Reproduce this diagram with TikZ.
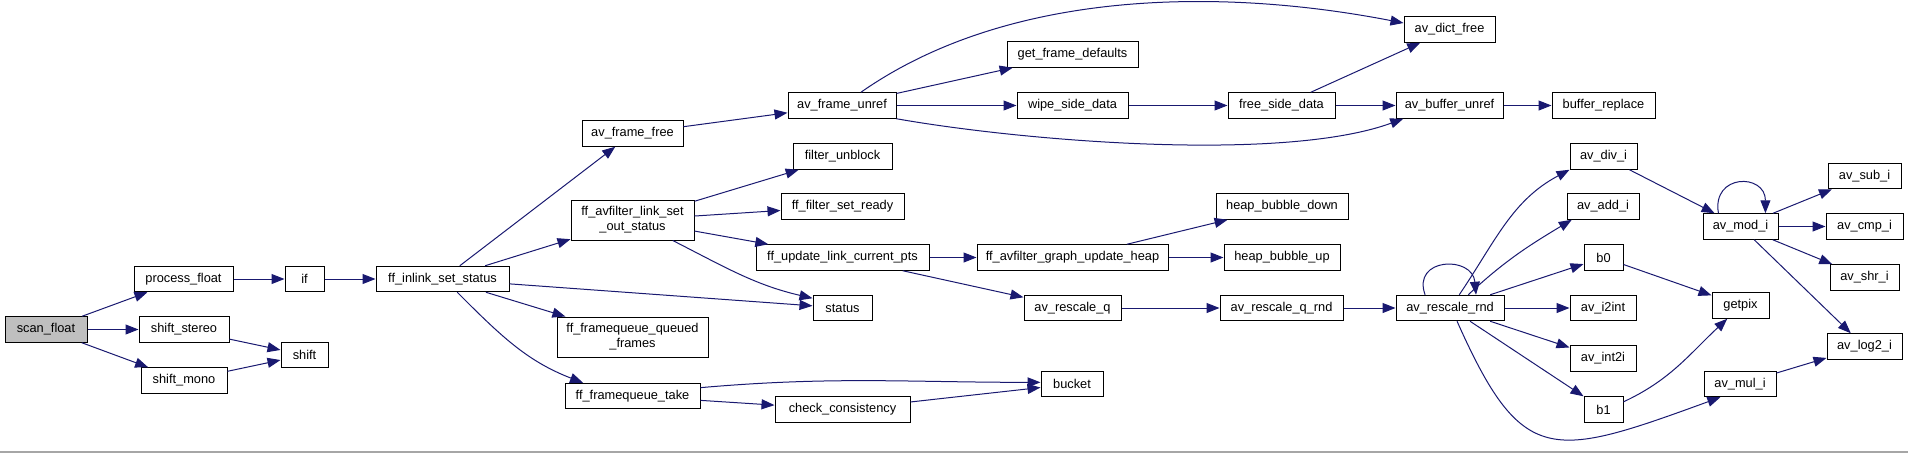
\documentclass[tikz,border=0pt]{standalone}
\usepackage{fontspec}
\setmainfont{Liberation Sans}
\usepackage{tikz}
\usepackage{xcolor}
\usetikzlibrary{arrows.meta}
\definecolor{edgeblue}{HTML}{191970}
\definecolor{rootgray}{HTML}{BFBFBF}

\begin{document}
\begin{tikzpicture}[
    x=1pt, y=1pt,
    fn/.style={rectangle, draw=black, fill=white, line width=1pt, inner sep=0pt, minimum height=25.5pt, font=\fontsize{12.8}{15}\selectfont},
    twoline/.style={fn, align=center, minimum height=40pt},
    arrow/.style={-{Triangle[length=13pt,width=10pt]}, draw=edgeblue, line width=1pt}
  ]
    \useasboundingbox (0,0) rectangle (1908,-453);
    \node[fn, fill=rootgray, minimum width=82pt] (scan) at (46,-329.5) {scan\_float};
    \node[fn, minimum width=99pt] (procfloat) at (183.5,-279) {process\_float};
    \node[fn, minimum width=90pt] (shiftstereo) at (184,-329.5) {shift\_stereo};
    \node[fn, minimum width=86pt] (shiftmono) at (184,-380.5) {shift\_mono};
    \node[fn, minimum width=39pt] (iff) at (304.5,-279) {if};
    \node[fn, minimum width=47pt] (shift) at (304.5,-355) {shift};
    \node[fn, minimum width=133pt] (inlink) at (442.5,-279) {ff\_inlink\_set\_status};
    \node[fn, minimum width=101pt] (framefree) at (632.5,-133.5) {av\_frame\_free};
    \node[twoline, minimum width=123pt] (linkout) at (632.5,-220) {ff\_avfilter\_link\_set\\\_out\_status};
    \node[twoline, minimum width=151pt] (queued) at (632.5,-337) {ff\_framequeue\_queued\\\_frames};
    \node[fn, minimum width=135pt] (fqtake) at (632.5,-396) {ff\_framequeue\_take};
    \node[fn, minimum width=108pt] (frameunref) at (842,-105.5) {av\_frame\_unref};
    \node[fn, minimum width=99pt] (unblock) at (842.5,-156.5) {filter\_unblock};
    \node[fn, minimum width=123pt] (setready) at (842.5,-206.5) {ff\_filter\_set\_ready};
    \node[fn, minimum width=173pt] (updpts) at (842.5,-257.5) {ff\_update\_link\_current\_pts};
    \node[fn, minimum width=59pt] (status) at (842.5,-308) {status};
    \node[fn, minimum width=135pt] (consist) at (842.5,-409.5) {check\_consistency};
    \node[fn, minimum width=131pt] (framedef) at (1072.5,-54.5) {get\_frame\_defaults};
    \node[fn, minimum width=111pt] (wipe) at (1072.5,-105.5) {wipe\_side\_data};
    \node[fn, minimum width=191pt] (heap) at (1072.5,-257.5) {ff\_avfilter\_graph\_update\_heap};
    \node[fn, minimum width=97pt] (rescaleq) at (1072.5,-308) {av\_rescale\_q};
    \node[fn, minimum width=62pt] (bucket) at (1072,-384) {bucket};
    \node[fn, minimum width=107pt] (freeside) at (1281.5,-105.5) {free\_side\_data};
    \node[fn, minimum width=132pt] (bubdown) at (1282,-206.5) {heap\_bubble\_down};
    \node[fn, minimum width=116pt] (bubup) at (1282,-257.5) {heap\_bubble\_up};
    \node[fn, minimum width=123pt] (qrnd) at (1281.5,-308) {av\_rescale\_q\_rnd};
    \node[fn, minimum width=91pt] (dictfree) at (1449.5,-29.5) {av\_dict\_free};
    \node[fn, minimum width=107pt] (bufunref) at (1449.5,-105.5) {av\_buffer\_unref};
    \node[fn, minimum width=108pt] (rnd) at (1450,-308) {av\_rescale\_rnd};
    \node[fn, minimum width=103pt] (bufrepl) at (1603.5,-105.5) {buffer\_replace};
    \node[fn, minimum width=67pt] (divi) at (1603.5,-156.5) {av\_div\_i};
    \node[fn, minimum width=72pt] (addi) at (1603,-206.5) {av\_add\_i};
    \node[fn, minimum width=39pt] (bzero) at (1603.5,-257.5) {b0};
    \node[fn, minimum width=66pt] (itoint) at (1603,-308) {av\_i2int};
    \node[fn, minimum width=66pt] (inttoi) at (1603,-358.5) {av\_int2i};
    \node[fn, minimum width=39pt] (bone) at (1603.5,-409.5) {b1};
    \node[fn, minimum width=75pt] (modi) at (1740.5,-226.5) {av\_mod\_i};
    \node[fn, minimum width=57pt] (getpix) at (1740.5,-305.5) {getpix};
    \node[fn, minimum width=72pt] (muli) at (1740,-384) {av\_mul\_i};
    \node[fn, minimum width=73pt] (subi) at (1864.5,-176) {av\_sub\_i};
    \node[fn, minimum width=77pt] (cmpi) at (1864.5,-226.5) {av\_cmp\_i};
    \node[fn, minimum width=69pt] (shri) at (1864.5,-277.5) {av\_shr\_i};
    \node[fn, minimum width=75pt] (logi) at (1864.5,-346.5) {av\_log2\_i};
    \draw[arrow] (scan) -- (procfloat);
    \draw[arrow] (scan) -- (shiftstereo);
    \draw[arrow] (scan) -- (shiftmono);
    \draw[arrow] (procfloat) -- (iff);
    \draw[arrow] (shiftstereo) -- (shift);
    \draw[arrow] (shiftmono) -- (shift);
    \draw[arrow] (iff) -- (inlink);
    \draw[arrow] (inlink) -- (framefree);
    \draw[arrow] (inlink) -- (linkout);
    \draw[arrow] (inlink) -- (status);
    \draw[arrow] (inlink) -- (queued);
    \draw[arrow] (inlink.-42) to[out=-45, in=159] (fqtake.165);
    \draw[arrow] (framefree) -- (frameunref);
    \draw[arrow] (frameunref.35) to[out=35, in=169, looseness=0.85] (dictfree.172);
    \draw[arrow] (frameunref) -- (framedef);
    \draw[arrow] (frameunref) -- (wipe);
    \draw[arrow] (frameunref.south east) to[out=-10, in=-160, looseness=0.65] (bufunref.-164);
    \draw[arrow] (wipe) -- (freeside);
    \draw[arrow] (freeside) -- (dictfree);
    \draw[arrow] (freeside) -- (bufunref);
    \draw[arrow] (bufunref) -- (bufrepl);
    \draw[arrow] (linkout) -- (unblock);
    \draw[arrow] (linkout) -- (setready);
    \draw[arrow] (linkout) -- (updpts);
    \draw[arrow] (linkout.-27) to[out=-27, in=167] (status.162);
    \draw[arrow] (updpts) -- (heap);
    \draw[arrow] (updpts) -- (rescaleq);
    \draw[arrow] (heap) -- (bubdown);
    \draw[arrow] (heap) -- (bubup);
    \draw[arrow] (rescaleq) -- (qrnd);
    \draw[arrow] (qrnd) -- (rnd);
    \draw[arrow] (rnd.152) to[out=110, in=95, looseness=2] (rnd.27);
    \draw[arrow] (rnd.55) to[out=56, in=-152] (divi.south west);
    \draw[arrow] (rnd.36) to[out=43, in=-149] (addi.-157);
    \draw[arrow] (rnd) -- (bzero);
    \draw[arrow] (rnd) -- (itoint);
    \draw[arrow] (rnd) -- (inttoi);
    \draw[arrow] (rnd) -- (bone);
    \draw[arrow] (rnd.-62) .. controls +(-66:160) and +(-160:180) .. (muli.-146);
    \draw[arrow] (divi) -- (modi);
    \draw[arrow] (modi.149) to[out=100, in=90, looseness=2.2] (modi.28);
    \draw[arrow] (modi) -- (subi);
    \draw[arrow] (modi) -- (cmpi);
    \draw[arrow] (modi) -- (shri);
    \draw[arrow] (modi) -- (logi);
    \draw[arrow] (bzero) -- (getpix);
    \draw[arrow] (bone.21) to[out=25, in=-137] (getpix.-135);
    \draw[arrow] (muli) -- (logi);
    \draw[arrow] (fqtake.7) to[out=5, in=180] (bucket.177);
    \draw[arrow] (fqtake) -- (consist);
    \draw[arrow] (consist) -- (bucket);
    \draw[gray!70, line width=1.5pt] (0,-452) -- (1908,-452);
  \end{tikzpicture}
\end{document}
